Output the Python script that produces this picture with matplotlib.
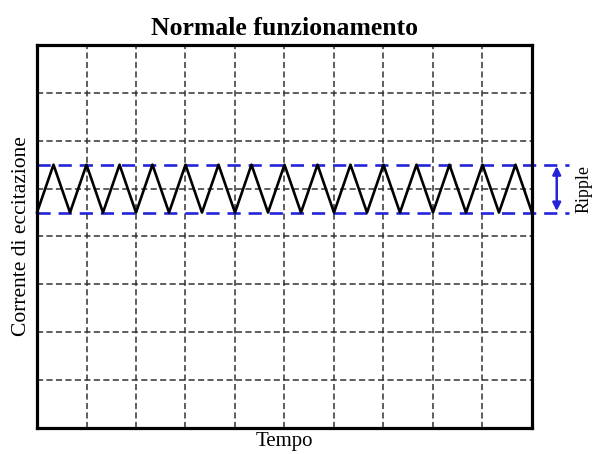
import matplotlib
matplotlib.use("Agg")
import matplotlib.pyplot as plt

# dati: onda triangolare della corrente di eccitazione
wave_t = [0, 0.333, 0.667, 1.0, 1.333, 1.667, 2.0, 2.333, 2.667, 3.0,
          3.333, 3.667, 4.0, 4.333, 4.667, 5.0, 5.333, 5.667, 6.0, 6.333,
          6.667, 7.0, 7.333, 7.667, 8.0, 8.333, 8.667, 9.0, 9.333, 9.667, 10.0]
wave_i = [4.5, 5.5, 4.5, 5.5, 4.5, 5.5, 4.5, 5.5, 4.5, 5.5,
          4.5, 5.5, 4.5, 5.5, 4.5, 5.5, 4.5, 5.5, 4.5, 5.5,
          4.5, 5.5, 4.5, 5.5, 4.5, 5.5, 4.5, 5.5, 4.5, 5.5, 4.5]
ripple_low = 4.5
ripple_high = 5.5
x_ticks = [0, 1, 2, 3, 4, 5, 6, 7, 8, 9, 10]
y_ticks = [0, 1, 2, 3, 4, 5, 6, 7, 8]

plt.rcParams['font.family'] = ['Liberation Serif', 'DejaVu Serif']

fig = plt.figure(figsize=(5.93, 4.54), dpi=100)
ax = fig.add_axes([0.0624, 0.0573, 0.8347, 0.8436])
ax.set_xlim(0, 10)
ax.set_ylim(0, 8)
ax.set_xticks(x_ticks)
ax.set_yticks(y_ticks)
ax.tick_params(length=0, labelbottom=False, labelleft=False)
ax.grid(True, color='#333333', linewidth=1.1, linestyle=(0, (4, 2.2)))
for s in ax.spines.values():
    s.set_linewidth(2.3)
    s.set_zorder(5)

# ripple (linee blu tratteggiate)
blue = '#2424d8'
for lev in (ripple_low, ripple_high):
    ax.plot([0, 10.75], [lev, lev], color=blue, lw=1.9,
            linestyle=(0, (5, 3)), clip_on=False, zorder=3)

ax.plot(wave_t, wave_i, color='black', lw=1.9, zorder=4, clip_on=False)

ax.annotate('', xy=(10.5, ripple_low + 0.03), xytext=(10.5, ripple_high - 0.03),
            arrowprops=dict(arrowstyle='<|-|>', color=blue, lw=1.8,
                            mutation_scale=12, shrinkA=0, shrinkB=0),
            annotation_clip=False)
ax.text(11.05, (ripple_low + ripple_high) / 2, 'Ripple', rotation=90,
        ha='center', va='center', fontsize=13)

ax.set_title('Normale funzionamento', fontsize=18.5, fontweight='bold', pad=7)
ax.set_xlabel('Tempo', fontsize=15, labelpad=3)
ax.set_ylabel('Corrente di eccitazione', fontsize=15.5, labelpad=4)

fig.savefig('out.png', dpi=100)
